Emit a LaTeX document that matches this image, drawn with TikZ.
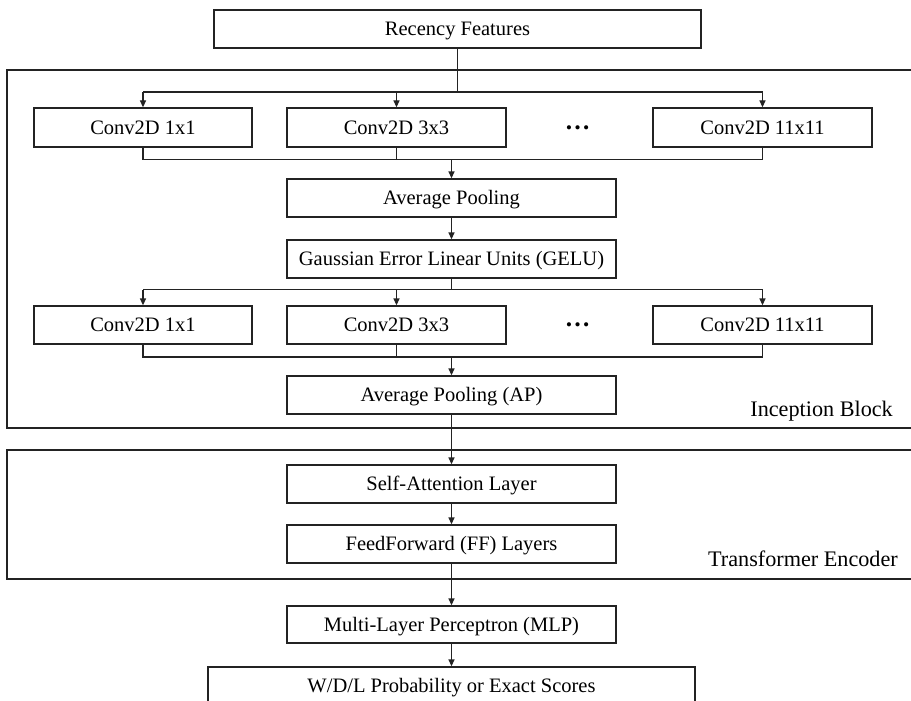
\documentclass[tikz,border=0pt]{standalone}
\usepackage{fontspec}
\setmainfont{Liberation Serif}
\usetikzlibrary{arrows.meta}
\definecolor{lc}{RGB}{35,35,35}
\newcommand\boxfont{\fontsize{20.5}{24}\selectfont}
\newcommand\lblfont{\fontsize{22.2}{26}\selectfont}
\tikzset{
  blk/.style={draw=lc, line width=1.3pt, minimum height=38pt, inner sep=0pt,
              text height=13.6pt, text depth=0pt, font=\boxfont, fill=white},
  ln/.style={draw=lc, line width=1.3pt},
  arr/.style={ln, -{Triangle[length=7pt,width=6pt]}},
  lbl/.style={inner sep=0pt, font=\lblfont, anchor=base east},
  dotsty/.style={inner sep=0pt, anchor=base, font=\bfseries\fontsize{25.5}{28}\selectfont},
}
\begin{document}
\begin{tikzpicture}[x=1pt,y=-1pt]
\useasboundingbox (0,0) rectangle (911,701);
\clip (0,0) rectangle (911,701);
% frames
\draw[ln] (930,70) -| (7,428) -- (930,428);
\draw[ln] (930,450) -| (7,579) -- (930,579);
% nodes
\node[blk, minimum width=487pt] (rec) at (457.5,29) {Recency Features};
\node[blk, minimum width=218pt, minimum height=39pt] (c1) at (143,127.5) {Conv2D 1x1};
\node[blk, minimum width=219pt, minimum height=39pt] (c3) at (396.5,127.5) {Conv2D 3x3};
\node[blk, minimum width=219pt, minimum height=39pt] (c11) at (762.5,127.5) {Conv2D 11x11};
\node[dotsty] (dots1) at (577.5,129) {…};
\node[blk, minimum width=329pt] (ap1) at (451.5,198) {Average Pooling};
\node[blk, minimum width=329pt] (gelu) at (451.5,259) {Gaussian Error Linear Units (GELU)};
\node[blk, minimum width=218pt] (d1) at (143,325) {Conv2D 1x1};
\node[blk, minimum width=219pt] (d3) at (396.5,325) {Conv2D 3x3};
\node[blk, minimum width=219pt] (d11) at (762.5,325) {Conv2D 11x11};
\node[dotsty] (dots2) at (577.5,326.5) {…};
\node[blk, minimum width=329pt] (ap2) at (451.5,395) {Average Pooling (AP)};
\node[lbl] (lib) at (893,416.5) {Inception Block};
\node[blk, minimum width=329pt] (sa) at (451.5,484) {Self-Attention Layer};
\node[blk, minimum width=329pt] (ff) at (451.5,544) {FeedForward (FF) Layers};
\node[lbl] (lte) at (898,566.5) {Transformer Encoder};
\node[blk, minimum width=329pt, minimum height=37pt] (mlp) at (451.5,624.5) {Multi-Layer Perceptron (MLP)};
\node[blk, minimum width=487pt, minimum height=37pt] (out) at (451.5,685.5) {W/D/L Probability or Exact Scores};
% coordinates
\coordinate (s1) at (457.5,92);
\coordinate (m1) at (451.5,159.5);
\coordinate (s2) at (451.5,289.5);
\coordinate (m2) at (451.5,357);
% split 1
\draw[ln] (rec.south) -- (s1);
\draw[ln] (c1.north|-s1) -- (c11.north|-s1);
\foreach \n in {c1,c3,c11} \draw[arr] (\n.north|-s1) -- (\n.north);
% merge 1
\draw[ln] (c1.south) -- (c1.south|-m1) -- (c11.south|-m1) -- (c11.south);
\draw[ln] (c3.south) -- (c3.south|-m1);
\draw[arr] (m1) -- (ap1.north);
\draw[arr] (ap1.south) -- (gelu.north);
% split 2
\draw[ln] (gelu.south) -- (s2);
\draw[ln] (d1.north|-s2) -- (d11.north|-s2);
\foreach \n in {d1,d3,d11} \draw[arr] (\n.north|-s2) -- (\n.north);
% merge 2
\draw[ln] (d1.south) -- (d1.south|-m2) -- (d11.south|-m2) -- (d11.south);
\draw[ln] (d3.south) -- (d3.south|-m2);
\draw[arr] (m2) -- (ap2.north);
% transformer and head
\draw[arr] (ap2.south) -- (sa.north);
\draw[arr] (sa.south) -- (ff.north);
\draw[arr] (ff.south) -- (mlp.north);
\draw[arr] (mlp.south) -- (out.north);
\end{tikzpicture}
\end{document}
